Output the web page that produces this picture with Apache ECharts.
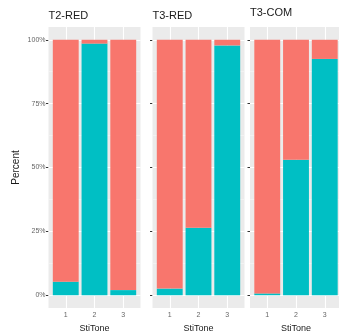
<!DOCTYPE html>
<html>
<head>
<meta charset="utf-8">
<script src="https://cdn.jsdelivr.net/npm/echarts@6/dist/echarts.min.js"></script>
<style>
html,body{margin:0;padding:0;background:#fff;}
#c{width:339px;height:334px;}
</style>
</head>
<body>
<div id="c"></div>
<script>
// ---- data ----
var panels = ['T2-RED', 'T3-RED', 'T3-COM'];
var categories = ['1', '2', '3'];
// share (%) of the teal group (bottom of each stacked bar)
var tealT2RED = [5.3, 98.5, 2.0];
var tealT3RED = [2.6, 26.4, 97.8];
var tealT3COM = [0.7, 53.0, 92.5];
// share (%) of the red group (top of each stacked bar)
var redT2RED = [94.7, 1.5, 98.0];
var redT3RED = [97.4, 73.6, 2.2];
var redT3COM = [99.3, 47.0, 7.5];
var yTicks = [0, 25, 50, 75, 100];
var yMinor = [12.5, 37.5, 62.5, 87.5];

var teal = [tealT2RED, tealT3RED, tealT3COM];
var red = [redT2RED, redT3RED, redT3COM];

var RED = '#F8766D', TEAL = '#00BFC4';
var FONT = 'Liberation Sans, Arial, sans-serif';
var gridLeft = [48.5, 152.5, 250];
var gridW = 92;
var catNums = categories.map(function (c) { return Number(c); });

var grids = [], xAxes = [], yAxes = [], series = [], titles = [];
var titleTop = [10, 10, 7];

panels.forEach(function (p, i) {
  grids.push({
    left: gridLeft[i], top: 27, width: gridW, height: 281,
    show: true, backgroundColor: '#EBEBEB', borderWidth: 0,
    containLabel: false, outerBoundsMode: 'none'
  });
  titles.push({
    text: p, left: gridLeft[i], top: titleTop[i], padding: 0,
    textStyle: { fontFamily: FONT, fontSize: 11, fontWeight: 'normal', color: '#1a1a1a' }
  });
  xAxes.push({
    gridIndex: i, type: 'value', min: 0.4, max: 3.6,
    axisLine: { show: false },
    splitLine: { show: false },
    axisTick: { show: true, customValues: catNums, length: 3, lineStyle: { color: '#333', width: 1 } },
    axisLabel: {
      show: true, customValues: catNums, margin: 4,
      formatter: function (v) { return categories[Math.round(v) - 1] || ''; },
      fontFamily: FONT, fontSize: 7, color: '#666'
    },
    name: 'StiTone', nameLocation: 'middle', nameGap: 15,
    nameTextStyle: { fontFamily: FONT, fontSize: 9, color: '#1a1a1a' }
  });
  yAxes.push({
    gridIndex: i, type: 'value', min: -5, max: 105,
    axisLine: { show: false },
    splitLine: { show: false },
    axisTick: { show: true, customValues: yTicks, length: 2.5, lineStyle: { color: '#333', width: 1 } },
    axisLabel: {
      show: i === 0, customValues: yTicks, margin: 3,
      formatter: '{value}%',
      fontFamily: FONT, fontSize: 7, color: '#666'
    },
    name: i === 0 ? 'Percent' : '', nameLocation: 'middle', nameGap: 27,
    nameTextStyle: { fontFamily: FONT, fontSize: 10, color: '#1a1a1a' }
  });

  var mlData = [];
  yMinor.forEach(function (v) { mlData.push({ yAxis: v, lineStyle: { color: '#F6F6F6', width: 0.6, type: 'solid' } }); });
  yTicks.forEach(function (v) { mlData.push({ yAxis: v, lineStyle: { color: '#FFFFFF', width: 1.1, type: 'solid' } }); });
  catNums.forEach(function (v) { mlData.push({ xAxis: v, lineStyle: { color: '#FFFFFF', width: 1.1, type: 'solid' } }); });

  series.push({
    type: 'bar', name: 'teal', xAxisIndex: i, yAxisIndex: i,
    stack: 'p' + i, barWidth: '90%', z: 2,
    encode: { x: 1, y: 0 },
    data: teal[i].map(function (v, k) { return [v, catNums[k]]; }),
    itemStyle: { color: TEAL },
    markLine: {
      z: 1, silent: true, symbol: ['none', 'none'], label: { show: false },
      animation: false, data: mlData
    }
  });
  series.push({
    type: 'bar', name: 'red', xAxisIndex: i, yAxisIndex: i,
    stack: 'p' + i, barWidth: '90%', z: 2,
    encode: { x: 1, y: 0 },
    data: red[i].map(function (v, k) { return [v, catNums[k]]; }),
    itemStyle: { color: RED }
  });
});

var chart = echarts.init(document.getElementById('c'), null, { renderer: 'canvas' });
chart.setOption({
  animation: false,
  backgroundColor: '#ffffff',
  title: titles,
  grid: grids,
  xAxis: xAxes,
  yAxis: yAxes,
  series: series
});
</script>
</body>
</html>
